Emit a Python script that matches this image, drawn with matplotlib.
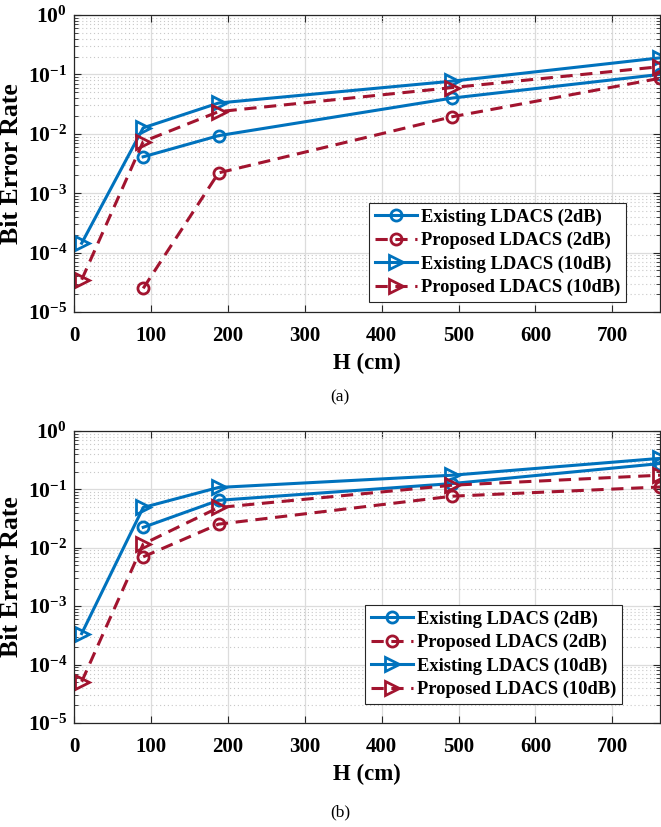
import matplotlib
matplotlib.use("Agg")
import matplotlib.pyplot as plt
from matplotlib.ticker import LogLocator, NullFormatter
import numpy as np

plt.rcParams['font.family'] = ['Liberation Serif', 'DejaVu Serif']
plt.rcParams['mathtext.fontset'] = 'custom'
plt.rcParams['mathtext.rm'] = 'Liberation Serif:bold'
plt.rcParams['mathtext.bf'] = 'Liberation Serif:bold'
plt.rcParams['mathtext.it'] = 'Liberation Serif:bold'

BLUE = '#0072BD'
RED = '#A2142F'

# ---- data: panel (a)
a_x_exist2 = [90, 188, 492, 762]
a_exist2 = [4.1e-3, 9.3e-3, 0.040, 0.10]
a_x_prop2 = [90, 188, 492, 762]
a_prop2 = [2.5e-5, 2.2e-3, 0.0194, 0.086]
a_x_exist10 = [10, 90, 188, 492, 762]
a_exist10 = [1.44e-4, 0.0126, 0.033, 0.077, 0.19]
a_x_prop10 = [10, 90, 188, 492, 762]
a_prop10 = [3.5e-5, 7.4e-3, 0.0236, 0.060, 0.135]

# ---- data: panel (b)
b_x_exist2 = [90, 188, 492, 762]
b_exist2 = [0.0224, 0.065, 0.126, 0.277]
b_x_prop2 = [90, 188, 492, 762]
b_prop2 = [7.0e-3, 0.0254, 0.0765, 0.11]
b_x_exist10 = [10, 90, 188, 492, 762]
b_exist10 = [3.4e-4, 0.049, 0.108, 0.175, 0.34]
b_x_prop10 = [10, 90, 188, 492, 762]
b_prop10 = [5.1e-5, 0.0116, 0.049, 0.118, 0.175]

labels = ['Existing LDACS (2dB)', 'Proposed LDACS (2dB)',
          'Existing LDACS (10dB)', 'Proposed LDACS (10dB)']
xticks = [0, 100, 200, 300, 400, 500, 600, 700]
ytick_vals = [1e-5, 1e-4, 1e-3, 1e-2, 1e-1, 1e0]
ytick_labels = [r'$\mathbf{10^{-5}}$', r'$\mathbf{10^{-4}}$', r'$\mathbf{10^{-3}}$',
                r'$\mathbf{10^{-2}}$', r'$\mathbf{10^{-1}}$', r'$\mathbf{10^{0}}$']

W, H = 661, 827
fig = plt.figure(figsize=(W / 100, H / 100), dpi=100)

def make_ax(top, bottom, series, legend_box):
    left, right = 74, 660
    ax = fig.add_axes([left / W, 1 - bottom / H, (right - left) / W, (bottom - top) / H])
    (x1, y1), (x2, y2), (x3, y3), (x4, y4) = series
    ax.plot(x1, y1, '-', color=BLUE, lw=2.2, marker='o', ms=8, mfc='none', mew=2, label=labels[0], clip_on=False)
    ax.plot(x2, y2, '--', color=RED, lw=2.2, marker='o', ms=8, mfc='none', mew=2, label=labels[1], clip_on=False, dashes=(4, 2.5))
    ax.plot(x3, y3, '-', color=BLUE, lw=2.2, marker='>', ms=10, mfc='none', mew=2, label=labels[2], clip_on=False)
    ax.plot(x4, y4, '--', color=RED, lw=2.2, marker='>', ms=10, mfc='none', mew=2, label=labels[3], clip_on=False, dashes=(4, 2.5))
    ax.set_yscale('log')
    ax.set_ylim(1e-5, 1)
    ax.set_xlim(0, 762)
    ax.set_xticks(xticks)
    ax.set_xticklabels([str(v) for v in xticks], fontsize=15, fontweight='bold')
    ax.set_yticks(ytick_vals)
    ax.set_yticklabels(ytick_labels, fontsize=15.5)
    ax.yaxis.set_minor_locator(LogLocator(base=10, subs=np.arange(2, 10), numticks=20))
    ax.yaxis.set_minor_formatter(NullFormatter())
    ax.grid(True, which='major', color='#dcdcdc', lw=0.9, ls='-')
    ax.grid(True, which='minor', axis='y', color='#c8c8c8', lw=0.8, ls=(0, (1, 2.5)))
    ax.set_axisbelow(True)
    ax.tick_params(which='both', direction='in', top=True, right=True, color='#262626')
    ax.tick_params(which='major', length=5, width=0.8)
    ax.tick_params(axis='x', which='major', pad=10)
    ax.tick_params(axis='y', which='major', pad=5)
    ax.tick_params(which='minor', length=3, width=0.6)
    for s in ax.spines.values():
        s.set_color('#262626')
        s.set_linewidth(0.9)
    ax.set_xlabel('H (cm)', fontsize=16.5, fontweight='bold', labelpad=5)
    ax.set_ylabel('Bit Error Rate', fontsize=18.5, fontweight='bold', labelpad=3)
    lx0, ly0, lx1, ly1 = legend_box
    leg = ax.legend(loc='upper left',
                    bbox_to_anchor=((lx0 - left) / (right - left), (bottom - ly0) / (bottom - top)),
                    prop={'family': 'Liberation Serif', 'weight': 'bold', 'size': 13.3},
                    frameon=True, fancybox=False, edgecolor='#262626', framealpha=1,
                    borderpad=0.3, labelspacing=0.33, handlelength=2.3, handletextpad=0.2,
                    borderaxespad=0)
    leg.get_frame().set_linewidth(0.8)
    return ax

make_ax(15, 312,
        [(a_x_exist2, a_exist2), (a_x_prop2, a_prop2), (a_x_exist10, a_exist10), (a_x_prop10, a_prop10)],
        (369, 203, 616, 301))
make_ax(431, 723,
        [(b_x_exist2, b_exist2), (b_x_prop2, b_prop2), (b_x_exist10, b_exist10), (b_x_prop10, b_prop10)],
        (365, 605, 612, 706))

fig.text(340 / W, 1 - 397 / H, '(a)', ha='center', va='center', fontsize=12.5)
fig.text(340 / W, 1 - 812 / H, '(b)', ha='center', va='center', fontsize=12.5)

fig.savefig('out.png', dpi=100)
